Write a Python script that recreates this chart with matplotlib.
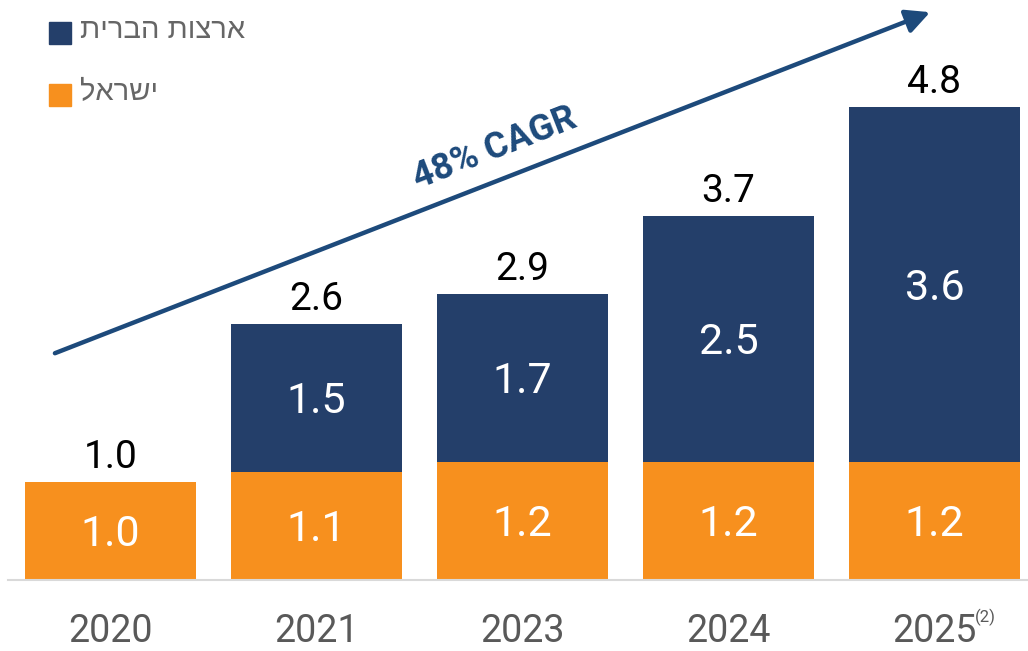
import matplotlib

matplotlib.use("Agg")
import matplotlib.pyplot as plt
from matplotlib.patches import Rectangle

plt.rcParams["font.family"] = ["Roboto", "DejaVu Sans"]

years = ["2020", "2021", "2023", "2024", "2025"]
israel = [1.0, 1.1, 1.2, 1.2, 1.2]
usa = [0.0, 1.5, 1.7, 2.5, 3.6]
totals = [1.0, 2.6, 2.9, 3.7, 4.8]
cagr_label = "48% CAGR"
legend_usa = "ארצות הברית"
legend_isr = "ישראל"

NAVY = "#243F6A"
ORANGE = "#F7901E"
ARROW = "#1D4A7B"
GREY = "#595959"

W, H = 1028, 651
fig = plt.figure(figsize=(W / 100, H / 100), dpi=100)
ax = fig.add_axes([8 / W, 71 / H, 1020 / W, 580 / H])

x = list(range(len(years)))
bw = 0.83
ax.bar(x, israel, width=bw, color=ORANGE, zorder=2)
ax.bar(x, usa, width=bw, bottom=israel, color=NAVY, zorder=2)

fs_in = 31
for i in x:
    ax.annotate(f"{israel[i]:.1f}", (i, israel[i] / 2), xytext=(0, -0.355 * fs_in),
                textcoords="offset points", ha="center", va="baseline",
                color="white", fontsize=fs_in)
    if usa[i] > 0:
        ax.annotate(f"{usa[i]:.1f}", (i, israel[i] + usa[i] / 2), xytext=(0, -0.355 * fs_in),
                    textcoords="offset points", ha="center", va="baseline",
                    color="white", fontsize=fs_in)
    ax.annotate(f"{totals[i]:.1f}", (i, totals[i]), xytext=(0, 10),
                textcoords="offset points", ha="center", va="baseline",
                color="black", fontsize=28)

ax.set_xlim(-0.4976, 4.454)
ax.set_ylim(0, 580 / 98.5)
ax.set_xticks(x)
ax.set_xticklabels(years)
ax.tick_params(axis="x", length=0, pad=24, labelsize=27, labelcolor=GREY)
ax.set_yticks([])
for s in ["left", "right", "top"]:
    ax.spines[s].set_visible(False)
ax.spines["bottom"].set_color("#D9D9D9")
ax.spines["bottom"].set_linewidth(1.5)

# footnote mark on the last year
ax.annotate("(2)", (4, 0), xycoords=("data", "axes fraction"), xytext=(29, -30),
            textcoords="offset points", ha="left", va="baseline",
            fontsize=12, color=GREY)

# growth arrow
ax.annotate("", xy=(0.904, 0.979), xytext=(0.046, 0.391), xycoords="axes fraction",
            arrowprops=dict(arrowstyle="-|>", lw=3.2, color=ARROW, mutation_scale=36,
                            shrinkA=0, shrinkB=0),
            annotation_clip=False)
ax.text(0.477, 0.744, cagr_label, transform=ax.transAxes, rotation=21.3,
        rotation_mode="anchor", ha="center", va="center", fontsize=26,
        fontweight="bold", color=ARROW)

# legend (right-to-left text, reversed for drawing)
heb = ["Liberation Sans", "DejaVu Sans"]
for txt, col, top in [(legend_usa, NAVY, 22), (legend_isr, ORANGE, 84)]:
    fig.add_artist(Rectangle((49 / W, 1 - (top + 22) / H), 22 / W, 22 / H,
                             transform=fig.transFigure, color=col))
    fig.text(80 / W, 1 - (top + 16) / H, txt[::-1], ha="left", va="baseline",
             fontsize=21, color="#666666", family=heb)

fig.savefig("out.png", dpi=100)
